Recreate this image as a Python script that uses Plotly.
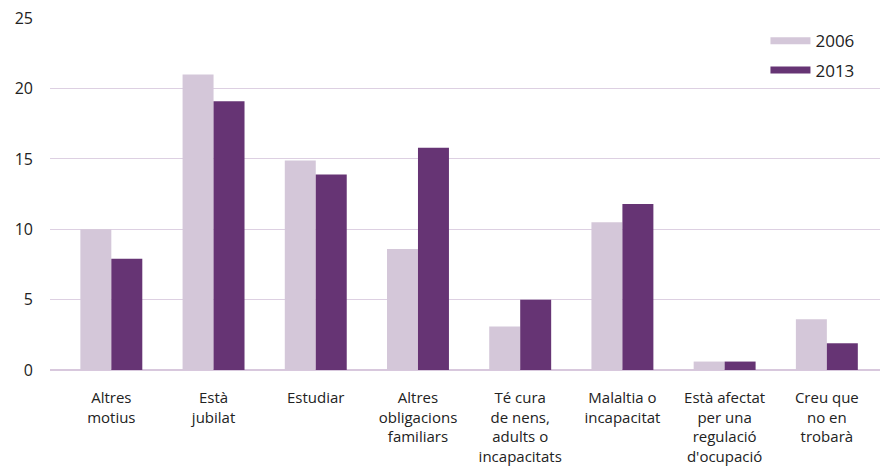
import plotly.graph_objects as go

categories = [
    "Altres<br>motius",
    "Està<br>jubilat",
    "Estudiar",
    "Altres<br>obligacions<br>familiars",
    "Té cura<br>de nens,<br>adults o<br>incapacitats",
    "Malaltia o<br>incapacitat",
    "Està afectat<br>per una<br>regulació<br>d'ocupació",
    "Creu que<br>no en<br>trobarà",
]
values_2006 = [10.0, 21.0, 14.9, 8.6, 3.1, 10.5, 0.6, 3.6]
values_2013 = [7.9, 19.1, 13.9, 15.8, 5.0, 11.8, 0.6, 1.9]
series_names = ["2006", "2013"]
y_ticks = [0, 5, 10, 15, 20, 25]

c_light = "#d4c7d9"
c_dark = "#663474"
x_idx = list(range(len(categories)))
FONT = "Open Sans, sans-serif"
TXT = "#222222"

fig = go.Figure()
fig.add_trace(go.Bar(x=x_idx, y=values_2006, name=series_names[0],
                     marker=dict(color=c_light, line=dict(width=0)), showlegend=False))
fig.add_trace(go.Bar(x=x_idx, y=values_2013, name=series_names[1],
                     marker=dict(color=c_dark, line=dict(width=0)), showlegend=False))
# legend entries drawn as thick line keys
for nm, col, grp in [(series_names[0], c_light, "a"), (series_names[1], c_dark, "b")]:
    fig.add_trace(go.Scatter(x=[None], y=[None], mode="lines", name=nm,
                             line=dict(color=col, width=7), legendgroup=grp,
                             showlegend=True, hoverinfo="skip"))

# page body has an 8px default margin, so margins are compensated
fig.update_layout(
    width=891, height=466,
    margin=dict(l=42, r=19, t=10, b=103.5),
    paper_bgcolor="white", plot_bgcolor="white",
    barmode="group", bargap=0.394, bargroupgap=0,
    font=dict(family=FONT, size=14, color=TXT),
    legend=dict(x=0.862, y=0.985, xanchor="left", yanchor="top",
                itemwidth=40, tracegroupgap=4,
                font=dict(family=FONT, size=17, color=TXT),
                bgcolor="rgba(0,0,0,0)"),
    xaxis=dict(tickmode="array", tickvals=x_idx, ticktext=categories,
               range=[-0.6, 7.52], showgrid=False, showline=False,
               ticks="", ticklabelstandoff=17, ticklabeloverflow="allow",
               tickfont=dict(family=FONT, size=15, color=TXT),
               zeroline=False, automargin=False),
    yaxis=dict(range=[0, 25.02], tickvals=y_ticks, showgrid=True,
               gridcolor="#ddd0e2", gridwidth=1.3, zeroline=True,
               zerolinecolor="#d8c8dd", zerolinewidth=1.6,
               showline=False, ticks="", ticklabelstandoff=16,
               ticklabeloverflow="allow",
               tickfont=dict(family=FONT, size=16, color=TXT),
               automargin=False),
)

fig.write_html("out.html")
